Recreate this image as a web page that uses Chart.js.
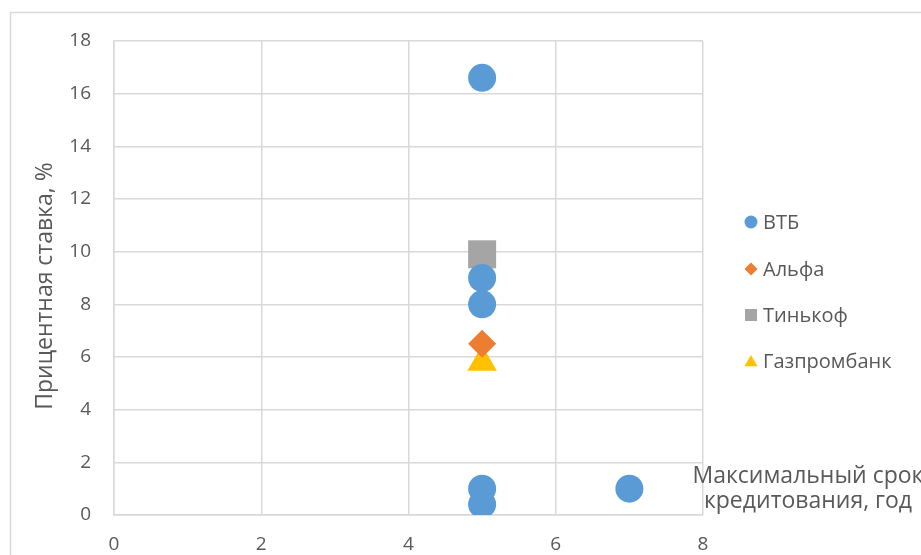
<!DOCTYPE html>
<html>
<head>
<meta charset="utf-8">
<script src="https://cdn.jsdelivr.net/npm/chart.js@4"></script>
<style>
  html, body { margin: 0; padding: 0; background: #fff; }
  #wrap { width: 921px; height: 555px; position: relative; }
</style>
</head>
<body>
<div id="wrap"><canvas id="rates"></canvas></div>
<script>
'use strict';

// срок кредитования, лет / ставка, %
var seriesNames = ['ВТБ', 'Альфа', 'Тинькоф', 'Газпромбанк'];
var vtbYears = [5, 5, 5, 5, 5, 7];
var vtbRates = [16.6, 9, 8, 1, 0.4, 1];
var alfaYears = [5];
var alfaRates = [6.5];
var tinkoffYears = [5];
var tinkoffRates = [9.9];
var gazpromYears = [5];
var gazpromRates = [5.8];

var xTicks = [0, 2, 4, 6, 8];
var yTicks = [0, 2, 4, 6, 8, 10, 12, 14, 16, 18];

var textColor = '#595959';
var gridColor = '#d9d9d9';
var fontFamily = "'Open Sans', 'Noto Sans', sans-serif";

function toPoints(xs, ys) {
    return xs.map(function (x, i) { return { x: x, y: ys[i] }; });
}

// radius у rect в Chart.js даёт сторону 1.41*r, поэтому у квадрата больше
var styles = [
    { color: '#5b9bd5', pointStyle: 'circle', radius: 14, legendRadius: 6.5 },
    { color: '#ed7d31', pointStyle: 'rectRot', radius: 14, legendRadius: 6.5 },
    { color: '#a5a5a5', pointStyle: 'rect', radius: 19.8, legendRadius: 8.5 },
    { color: '#ffc000', pointStyle: 'triangle', radius: 17, legendRadius: 7.5 }
];

var pointSets = [
    toPoints(vtbYears, vtbRates),
    toPoints(alfaYears, alfaRates),
    toPoints(tinkoffYears, tinkoffRates),
    toPoints(gazpromYears, gazpromRates)
];

var datasets = seriesNames.map(function (name, i) {
    return {
        label: name,
        data: pointSets[i],
        pointStyle: styles[i].pointStyle,
        pointRadius: styles[i].radius,
        pointHoverRadius: styles[i].radius,
        backgroundColor: styles[i].color,
        borderColor: styles[i].color,
        borderWidth: 0,
        showLine: false
    };
});

// рамка, легенда и подписи осей как в Excel
var decorPlugin = {
    id: 'decor',
    beforeDraw: function (chart) {
        var ctx = chart.ctx;
        ctx.save();
        ctx.strokeStyle = gridColor;
        ctx.lineWidth = 1.5;
        ctx.beginPath();
        ctx.moveTo(10.5, 600);
        ctx.lineTo(10.5, 12.5);
        ctx.lineTo(930, 12.5);
        ctx.stroke();
        ctx.restore();
    },
    afterDraw: function (chart) {
        var ctx = chart.ctx;
        ctx.save();
        ctx.fillStyle = textColor;

        // легенда
        var legendY = [222, 269, 315, 361];
        ctx.font = '20px ' + fontFamily;
        ctx.textBaseline = 'middle';
        ctx.textAlign = 'left';
        seriesNames.forEach(function (name, i) {
            var s = styles[i];
            ctx.fillStyle = s.color;
            ctx.strokeStyle = s.color;
            Chart.helpers.drawPoint(ctx, {
                pointStyle: s.pointStyle,
                radius: s.legendRadius,
                borderWidth: 0,
                rotation: 0
            }, 751, legendY[i] + (s.pointStyle === 'triangle' ? 1.5 : 0));
            ctx.fillStyle = textColor;
            ctx.fillText(name, 763, legendY[i] + 1);
        });

        // подпись оси X
        ctx.font = '23px ' + fontFamily;
        ctx.textAlign = 'center';
        ctx.textBaseline = 'alphabetic';
        ctx.fillText('Максимальный срок', 808, 483);
        ctx.fillText('кредитования, год', 808, 508);

        // подпись оси Y
        ctx.translate(45, 286);
        ctx.rotate(-Math.PI / 2);
        ctx.textBaseline = 'middle';
        ctx.font = '23px ' + fontFamily;
        ctx.fillText('Прицентная ставка, %', 0, 0);
        ctx.restore();
    }
};

new Chart(document.getElementById('rates'), {
    type: 'scatter',
    data: { datasets: datasets },
    options: {
        responsive: true,
        maintainAspectRatio: false,
        animation: false,
        events: [],
        layout: { padding: { left: 0, top: 41, right: 218, bottom: 0 } },
        plugins: {
            legend: { display: false },
            tooltip: { enabled: false }
        },
        scales: {
            x: {
                type: 'linear',
                min: 0,
                max: 8,
                afterBuildTicks: function (scale) {
                    scale.ticks = xTicks.map(function (v) { return { value: v }; });
                },
                afterFit: function (scale) { scale.height = 40; },
                grid: { color: gridColor, lineWidth: 1.5, drawTicks: false },
                border: { color: gridColor, width: 1.5 },
                ticks: { color: textColor, font: { family: fontFamily, size: 19 }, padding: 18, maxRotation: 0 }
            },
            y: {
                type: 'linear',
                min: 0,
                max: 18,
                afterBuildTicks: function (scale) {
                    scale.ticks = yTicks.map(function (v) { return { value: v }; });
                },
                afterFit: function (scale) { scale.width = 114; },
                grid: { color: gridColor, lineWidth: 1.5, drawTicks: false },
                border: { color: gridColor, width: 1.5 },
                ticks: { color: textColor, font: { family: fontFamily, size: 19 }, padding: 23 }
            }
        }
    },
    plugins: [decorPlugin]
});
</script>
</body>
</html>
